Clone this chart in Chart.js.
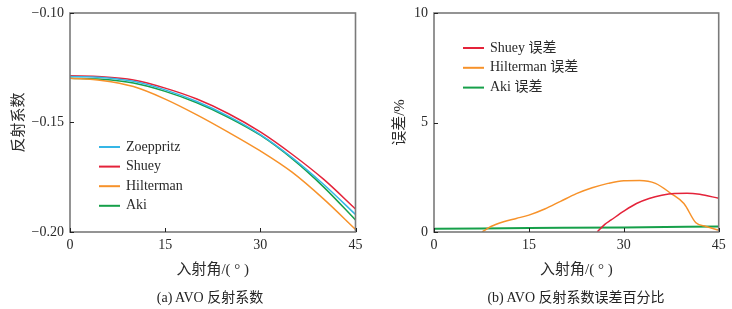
<!DOCTYPE html>
<html><head><meta charset="utf-8">
<script src="https://cdn.jsdelivr.net/npm/chart.js@4/dist/chart.umd.min.js"></script>
<style>
html,body{margin:0;padding:0;background:#fff;}
#wrap{position:relative;width:732px;height:309px;}
.c{position:absolute;top:0;width:366px;height:309px;}
.cap{position:absolute;top:286px;font-family:'Liberation Serif','Noto Sans CJK SC',serif;font-size:14px;color:#222;white-space:nowrap;transform:translateX(-50%);}
</style></head>
<body><div id="wrap">
<div class="c" style="left:0"><canvas id="a" width="366" height="309"></canvas></div>
<div class="c" style="left:366px"><canvas id="b" width="366" height="309"></canvas></div>
<div class="cap" style="left:210px">(a) AVO 反射系数</div>
<div class="cap" style="left:576px">(b) AVO 反射系数误差百分比</div>
</div>
<script>
// ---- data ----
const anglesA = [0, 5, 10, 15, 20, 25, 30, 35, 40, 45];
const zoeppritz = [-0.1290,-0.1294,-0.1312,-0.1351,-0.1404,-0.1472,-0.1555,-0.1660,-0.1783,-0.1920];
const shuey     = [-0.1287,-0.1291,-0.1306,-0.1343,-0.1393,-0.1460,-0.1543,-0.1645,-0.1760,-0.1895];
const hilterman = [-0.1298,-0.1308,-0.1336,-0.1393,-0.1465,-0.1545,-0.1630,-0.1727,-0.1850,-0.1988];
const aki       = [-0.1298,-0.1303,-0.1320,-0.1358,-0.1410,-0.1477,-0.1558,-0.1665,-0.1795,-0.1945];

const shueyErrAngles = [25.8, 27, 28, 30, 32, 34, 36, 38, 40, 42, 45];
const shueyErr       = [0, 0.35, 0.55, 0.95, 1.3, 1.53, 1.68, 1.76, 1.77, 1.72, 1.54];
const hiltErrAngles  = [7.6, 9, 11, 13, 15, 17.5, 20, 22.5, 25, 27.5, 30, 32.5, 35, 37.5, 39.5, 41.4, 43, 45];
const hiltErr        = [0, 0.25, 0.47, 0.62, 0.77, 1.05, 1.40, 1.75, 2.02, 2.22, 2.34, 2.35, 2.22, 1.75, 1.3, 0.42, 0.25, 0.09];
const akiErrAngles   = [0, 15, 30, 45];
const akiErr         = [0.15, 0.18, 0.21, 0.25];

const xTicks = [0, 15, 30, 45];
const yTicksA = [-0.20, -0.15, -0.10];
const yTicksB = [0, 5, 10];
const labelsA = ['Zoeppritz', 'Shuey', 'Hilterman', 'Aki'];
const labelsB = ['Shuey 误差', 'Hilterman 误差', 'Aki 误差'];

const C = {blue:'#35b6e6', red:'#e4233a', orange:'#f7922a', green:'#16a04a'};
const FONT = "'Liberation Serif','Noto Sans CJK SC',serif";
const TXT = '#2a2a2a';

function pts(xs, ys){ return xs.map((x,i)=>({x:x, y:ys[i]})); }

const frame = {
  id:'frame',
  afterDatasetsDraw(chart){
    const {ctx, chartArea:a, scales} = chart;
    ctx.save();
    ctx.strokeStyle = '#7a7a7a'; ctx.lineWidth = 1.6;
    ctx.strokeRect(a.left, a.top, a.right-a.left, a.bottom-a.top);
    ctx.strokeStyle = '#222'; ctx.lineWidth = 1;
    const L = 4;
    scales.x.ticks.forEach(t=>{
      const px = Math.round(scales.x.getPixelForValue(t.value))+0.5;
      ctx.beginPath(); ctx.moveTo(px, a.bottom); ctx.lineTo(px, a.bottom-L); ctx.stroke();
    });
    scales.y.ticks.forEach(t=>{
      const py = Math.round(scales.y.getPixelForValue(t.value))+0.5;
      ctx.beginPath(); ctx.moveTo(a.left, py); ctx.lineTo(a.left+L, py); ctx.stroke();
    });
    // legend
    const o = chart.options.plugins.frameLegend;
    ctx.font = '14px ' + FONT; ctx.textBaseline = 'middle'; ctx.fillStyle = TXT;
    chart.data.datasets.forEach((d,i)=>{
      const y = o.y + i*o.dy;
      ctx.strokeStyle = d.borderColor; ctx.lineWidth = 2;
      ctx.beginPath(); ctx.moveTo(o.x, y); ctx.lineTo(o.x+o.len, y); ctx.stroke();
      ctx.fillText(d.label, o.x+o.len+6, y);
    });
    ctx.restore();
  }
};

function makeChart(id, datasets, yMin, yMax, yTicks, yFmt, yTitle, yW, padR, legendPos, titlePadTop){
  return new Chart(document.getElementById(id), {
    type:'line',
    data:{datasets},
    plugins:[frame],
    options:{
      responsive:false, animation:false,
      layout:{padding:{left:0, right:padR, top:13, bottom:27}},
      elements:{point:{radius:0}, line:{borderWidth:1.5, cubicInterpolationMode:'monotone'}},
      plugins:{legend:{display:false}, tooltip:{enabled:false}, frameLegend:legendPos},
      scales:{
        x:{type:'linear', min:0, max:45,
           afterBuildTicks(s){ s.ticks = xTicks.map(v=>({value:v})); },
           afterFit(s){ s.height = 50; s.paddingLeft = 0; s.paddingRight = 0; },
           grid:{display:false, drawTicks:false}, border:{display:false},
           ticks:{padding:5, color:TXT, font:{family:FONT, size:14}, callback:v=>String(v)},
           title:{display:true, text:'入射角/( ° )', color:TXT, font:{family:FONT, size:15}, padding:{top:0,bottom:3}}},
        y:{type:'linear', min:yMin, max:yMax,
           afterBuildTicks(s){ s.ticks = yTicks.map(v=>({value:v})); },
           afterFit(s){ s.width = yW; s.paddingTop = 0; s.paddingBottom = 0; },
           grid:{display:false, drawTicks:false}, border:{display:false},
           ticks:{padding:6, color:TXT, font:{family:FONT, size:14}, callback:yFmt},
           title:{display:true, text:yTitle, color:TXT, font:{family:FONT, size:15}, padding:{top:titlePadTop,bottom:0}}}
      }
    }
  });
}

makeChart('a', [
  {label:labelsA[0], data:pts(anglesA, zoeppritz), borderColor:C.blue},
  {label:labelsA[1], data:pts(anglesA, shuey), borderColor:C.red},
  {label:labelsA[2], data:pts(anglesA, hilterman), borderColor:C.orange},
  {label:labelsA[3], data:pts(anglesA, aki), borderColor:C.green}
], -0.20, -0.10, yTicksA, v=>(v<0?'−':'')+Math.abs(v).toFixed(2), '反射系数', 70, 10.5,
  {x:99, y:147, dy:19.6, len:21}, 10);

makeChart('b', [
  {label:labelsB[0], data:pts(shueyErrAngles, shueyErr), borderColor:C.red},
  {label:labelsB[1], data:pts(hiltErrAngles, hiltErr), borderColor:C.orange},
  {label:labelsB[2], data:pts(akiErrAngles, akiErr), borderColor:C.green, borderWidth:2}
], 0, 10, yTicksB, v=>String(v), '误差/%', 68, 13.3,
  {x:97, y:48, dy:19.8, len:21}, 25);
</script>
</body></html>
